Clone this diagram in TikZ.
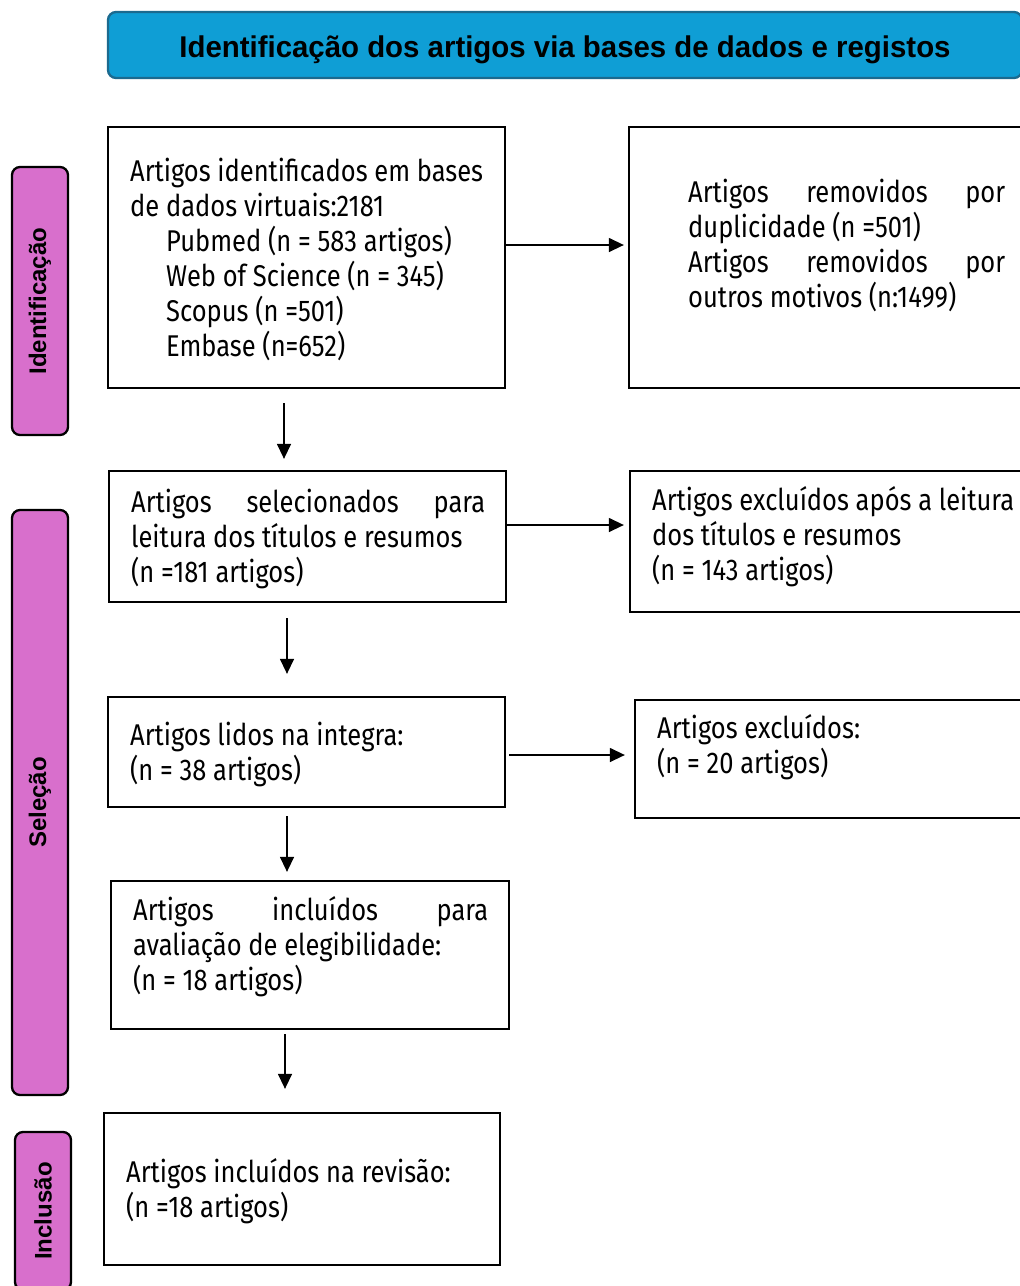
\documentclass[tikz,border=0pt]{standalone}
\usepackage{fontspec}
\setmainfont{Fira Sans}
\newfontfamily\bodyfont[FakeStretch=0.85]{Fira Sans}
\newfontfamily\headfont[FakeStretch=0.98]{Liberation Sans}
\newfontfamily\stagefont{Liberation Sans}
\usetikzlibrary{arrows.meta}
\definecolor{titleblue}{HTML}{0F9ED5}
\definecolor{titleedge}{HTML}{1B6A8F}
\definecolor{stagepink}{HTML}{D86FCC}
\tikzset{
  box/.style={draw=black, line width=2.3pt, fill=white, inner sep=0pt},
  txt/.style={anchor=west, align=left, inner sep=0pt, font=\bodyfont\fontsize{30}{35}\selectfont},
  stage/.style={draw=black, line width=2.3pt, fill=stagepink, rounded corners=8pt, rotate=90,
    inner sep=0pt, minimum height=56pt, font=\stagefont\bfseries\fontsize{24}{28}\selectfont},
  arr/.style={line width=1.4pt, -{Triangle[length=15pt,width=14pt]}}
}
\begin{document}
\begin{tikzpicture}[x=1pt,y=-1pt]
\useasboundingbox (0,0) rectangle (1020,1286);
\clip (0,0) rectangle (1020,1286);
\fill[white] (0,0) rectangle (1020,1286);

% title
\node[draw=titleedge, line width=2.3pt, fill=titleblue, rounded corners=8pt, minimum width=914pt,
  minimum height=66pt, inner sep=0pt, font=\headfont\bfseries\fontsize{30}{34}\selectfont]
  (title) at (565,45) {\raisebox{-5pt}[\height][\depth]{Identificação dos artigos via bases de dados e registos}};

% stage labels
\node[stage, minimum width=268pt] (sid) at (40,301) {Identificação};
\node[stage, minimum width=585pt] (ssel) at (40,802.5) {Seleção};
\node[stage, minimum width=158pt] (sinc) at (43,1211) {Inclusão};

% boxes
\node[box, minimum width=397pt, minimum height=261pt] (b1) at (306.5,257.5) {};
\node[box, minimum width=395pt, minimum height=261pt] (r1) at (826.5,257.5) {};
\node[box, minimum width=397pt, minimum height=131pt] (b2) at (307.5,536.5) {};
\node[box, minimum width=394pt, minimum height=141pt] (r2) at (827,541.5) {};
\node[box, minimum width=397pt, minimum height=110pt] (b3) at (306.5,752) {};
\node[box, minimum width=389pt, minimum height=118pt] (r3) at (829.5,759) {};
\node[box, minimum width=398pt, minimum height=148pt] (b4) at (310,955) {};
\node[box, minimum width=396pt, minimum height=152pt] (b5) at (302,1189) {};

% texts
\node[txt] (t1) at (130,259) {Artigos identificados em bases\\de dados virtuais:2181\\
\hspace*{36pt}Pubmed (n = 583 artigos)\\\hspace*{36pt}Web of Science (n = 345)\\
\hspace*{36pt}Scopus (n =501)\\\hspace*{36pt}Embase (n=652)};
\node[txt] (tr1) at (688,245.5) {\makebox[317pt][s]{Artigos removidos por}\\duplicidade (n =501)\\
\makebox[317pt][s]{Artigos removidos por}\\outros motivos (n:1499)};
\node[txt] (t2) at (131,539) {\makebox[354pt][s]{Artigos selecionados para}\\leitura dos títulos e resumos\\(n =181 artigos)};
\node[txt] (tr2) at (652,537) {Artigos excluídos após a leitura\\dos títulos e resumos\\(n = 143 artigos)};
\node[txt] (t3) at (130,754.5) {Artigos lidos na integra:\\(n = 38 artigos)};
\node[txt] (tr3) at (657,747.5) {Artigos excluídos:\\(n = 20 artigos)};
\node[txt] (t4) at (133,947) {\makebox[355pt][s]{Artigos incluídos para}\\avaliação de elegibilidade:\\(n = 18 artigos)};
\node[txt] (t5) at (126,1191.5) {Artigos incluídos na revisão:\\(n =18 artigos)};

% horizontal arrows
\draw[arr, shorten >=4pt] ([yshift=12.5pt]b1.east) -- ([yshift=12.5pt]b1.east -| r1.west);
\draw[arr, shorten >=5pt] ([yshift=11.5pt]b2.east) -- ([yshift=11.5pt]b2.east -| r2.west);
\draw[arr, shorten <=3pt, shorten >=9pt] ([yshift=-3pt]b3.east) -- ([yshift=-3pt]b3.east -| r3.west);

% vertical arrows
\draw[arr, shorten <=14pt, shorten >=11pt] ([xshift=-22.5pt]b1.south) -- ([xshift=-22.5pt]b1.south |- b2.north);
\draw[arr, shorten <=15pt, shorten >=22pt] ([xshift=-20.5pt]b2.south) -- ([xshift=-20.5pt]b2.south |- b3.north);
\draw[arr, shorten <=8pt, shorten >=8pt] ([xshift=-19.5pt]b3.south) -- ([xshift=-19.5pt]b3.south |- b4.north);
\draw[arr, shorten <=4pt, shorten >=23pt] ([xshift=-25pt]b4.south) -- ([xshift=-25pt]b4.south |- b5.north);
\end{tikzpicture}
\end{document}
